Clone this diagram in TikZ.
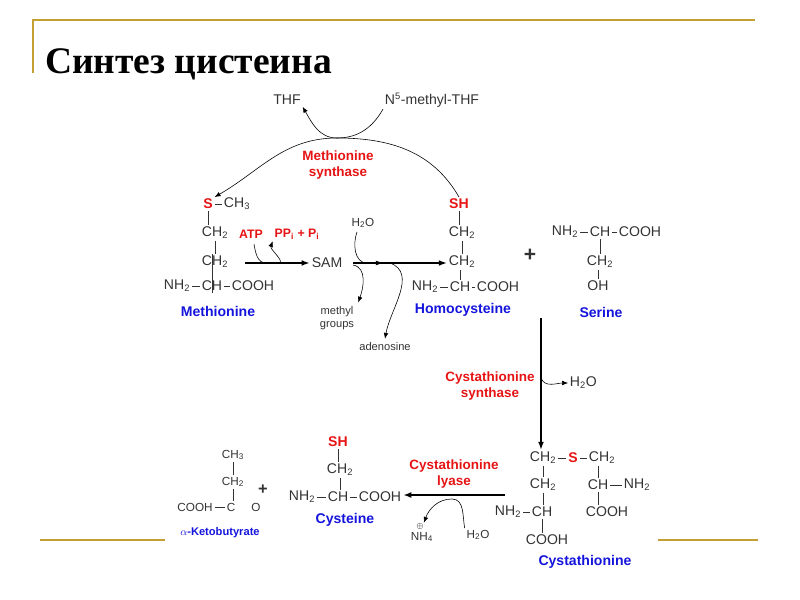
\documentclass[tikz,border=0pt]{standalone}
\usepackage{fontspec}
\setmainfont{Liberation Serif}
\newfontfamily\chemsf{Liberation Sans}
\usetikzlibrary{arrows.meta}
\definecolor{slidegold}{RGB}{196,160,50}
\definecolor{chemred}{RGB}{230,20,20}
\definecolor{chemblue}{RGB}{20,20,220}
\newcommand{\ch}[1]{\textsubscript{#1}}
\newcommand{\vbond}[2]{\draw[bond] (#1.south) -- (#1.south |- #2.north);}
\begin{document}
\begin{tikzpicture}
\tikzset{x={(0.03cm,0cm)}, y={(0cm,-0.03cm)}}
\tikzset{
  atom/.style={font=\chemsf\fontsize{12}{13}\selectfont, inner sep=1.5pt, text=black!80},
  satom/.style={atom, text=chemred, font=\chemsf\bfseries\fontsize{12}{13}\selectfont},
  enzyme/.style={font=\chemsf\bfseries\fontsize{11.5}{13}\selectfont, text=chemred, align=center},
  molname/.style={font=\chemsf\bfseries\fontsize{12}{13}\selectfont, text=chemblue},
  small/.style={font=\chemsf\fontsize{9.5}{10.5}\selectfont, text=black!80, align=center},
  bond/.style={line width=0.5pt, black!80},
  rxn/.style={line width=1.4pt, -{Latex[length=7pt,width=5pt]}},
  side/.style={line width=0.5pt, -{Latex[length=5pt,width=4pt]}}
}
\useasboundingbox (0,0) rectangle (800,600);
% slide frame
\draw[slidegold, line width=1.5pt] (33,73) -- (33,20) -- (755,20);
\draw[slidegold, line width=1.5pt] (40,540) -- (165,540);
\draw[slidegold, line width=1.5pt] (658,540) -- (758,540);
\node[anchor=base west, font=\bfseries\fontsize{32}{34}\selectfont, inner sep=0pt] (title) at (45,74) {Синтез цистеина};

% folate cycle
\node[atom] (thf) at (287,100) {THF};
\node[atom] (mthf) at (432,100) {N\textsuperscript{5}-methyl-THF};
\coordinate (top) at (337,138);
\node[enzyme] (msyn) at (338,165) {Methionine\\synthase};

% methionine
\node[satom] (ms) at (208,204) {S};
\node[atom, anchor=west] (mch3) at (222,204) {CH\ch{3}};
\node[atom] (mc1) at (215,233) {CH\ch{2}};
\node[atom] (mc2) at (215,262) {CH\ch{2}};
\node[atom] (mch) at (212,286) {CH};
\node[atom] (mnh2) at (177,286) {NH\ch{2}};
\node[atom] (mcooh) at (253,286) {COOH};
\node[molname] (met) at (218,311) {Methionine};
\draw[bond] (ms) -- (mch3) (mnh2) -- (mch) (mch) -- (mcooh);
\vbond{ms}{mc1} \vbond{mc1}{mc2} \vbond{mch}{mc2}
\draw[bond] (mch.north) -- (mch.north |- mc2.south);

% SAM
\node[satom, font=\chemsf\bfseries\fontsize{10.5}{12}\selectfont] (atp) at (251,234) {ATP};
\node[satom, font=\chemsf\bfseries\fontsize{10.5}{12}\selectfont] (ppi) at (297,234) {PP\ch{i} + P\ch{i}};
\node[atom] (sam) at (327,263) {SAM};
\coordinate (a1) at (245,263);
\coordinate (atpin) at (266,263);
\coordinate (ppiout) at (278,263);
\draw[rxn] (a1) -- (sam);
\draw[line width=0.5pt] (atp.south) ++(3,4) to[out=-80,in=180] (atpin);
\draw[side] (ppiout) to[out=0,in=-110] (ppi.south west);

% homocysteine
\node[satom] (hsh) at (459,204) {SH};
\node[atom] (hc1) at (462,233) {CH\ch{2}};
\node[atom] (hc2) at (462,262) {CH\ch{2}};
\node[atom] (hch) at (460,287) {CH};
\node[atom] (hnh2) at (425,287) {NH\ch{2}};
\node[atom] (hcooh) at (498,287) {COOH};
\node[molname] (hcy) at (463,310) {Homocysteine};
\draw[bond] (hnh2) -- (hch) (hch) -- (hcooh);
\vbond{hsh}{hc1} \vbond{hc1}{hc2}
\draw[bond] (hch.north) -- (hch.north |- hc2.south);

\node[atom, font=\chemsf\fontsize{10}{11}\selectfont] (h2oa) at (363,223) {H\ch{2}O};
\node[small] (methyl) at (337,318) {methyl\\groups};
\node[small] (aden) at (385,347) {adenosine};
\coordinate (s1) at (353,263);
\coordinate (s2) at (447,263);
\coordinate (s3) at (367,263);
\coordinate (s4) at (390,263);
\draw[rxn] (s1) -- (s2);
\draw[line width=0.5pt, -{Latex[length=6pt,width=4pt]}] (s1) -- (383,263);
\draw[line width=0.5pt] (h2oa.south) ++(-6,2) to[out=-110,in=180] (s3);
\draw[side] (s1) ++(0,2) to[out=-10,in=70] (methyl.north east);
\draw[side] (s4) to[out=-20,in=80] (aden.north);

% methionine synthase arcs
\draw[side] (hsh.north) to[out=120,in=0] (top) to[out=180,in=30] (ms.north east);
\draw[side] (mthf.south west) to[out=-120,in=0] (top) to[out=180,in=-60] (thf.south east);

% serine
\node[atom, font=\chemsf\bfseries\fontsize{18}{18}\selectfont] (plus1) at (530,255) {+};
\node[atom] (snh2) at (565,232) {NH\ch{2}};
\node[atom] (sch) at (600,232) {CH};
\node[atom] (scooh) at (640,232) {COOH};
\node[atom] (sc1) at (600,262) {CH\ch{2}};
\node[atom] (soh) at (598,286) {OH};
\node[molname] (ser) at (601,312) {Serine};
\draw[bond] (snh2) -- (sch) (sch) -- (scooh);
\vbond{sch}{sc1}
\draw[bond] (soh.north) -- (soh.north |- sc1.south);

% cystathionine synthase
\coordinate (v1) at (541,318);
\coordinate (v2) at (541,378);
\node[atom, anchor=west] (h2ob) at (568,383) {H\ch{2}O};
\node[enzyme] (csyn) at (490,386) {Cystathionine\\synthase};

% cystathionine
\node[atom] (cc1) at (543,458) {CH\ch{2}};
\node[satom] (cs) at (573,458) {S};
\node[atom] (cc2) at (602,458) {CH\ch{2}};
\node[atom] (cc3) at (543,485) {CH\ch{2}};
\node[atom] (cch2) at (598,485) {CH};
\node[atom, anchor=west] (cnh2r) at (622,485) {NH\ch{2}};
\node[atom] (cch) at (542,512) {CH};
\node[atom] (cnh2) at (508,512) {NH\ch{2}};
\node[atom] (ccoohr) at (607,512) {COOH};
\node[atom] (ccooh) at (547,540) {COOH};
\node[molname] (cys2) at (585,562) {Cystathionine};
\draw[bond] (cc1) -- (cs) (cs) -- (cc2) (cnh2) -- (cch) (cch2) -- (cnh2r);
\vbond{cc1}{cc3} \vbond{cc3}{cch} \vbond{cch}{ccooh} \vbond{cch2}{ccoohr}
\draw[bond] (cch2.north) -- (cch2.north |- cc2.south);
\draw[rxn] (v1) -- (v1 |- cc1.north);
\draw[side] (v2) to[out=-70,in=180] (h2ob.west);

% cystathionine lyase
\coordinate (l1) at (505,495);
\node[enzyme] (lyase) at (454,474) {Cystathionine\\lyase};
\node[atom, font=\chemsf\fontsize{10}{11}\selectfont] (h2oc) at (478,535) {H\ch{2}O};
\node[atom, font=\chemsf\fontsize{10}{11}\selectfont] (nh4) at (422,537) {NH\ch{4}};
\node[font=\chemsf\fontsize{7}{7}\selectfont, inner sep=0pt] (chg) at (420,526) {$\oplus$};
\coordinate (peak) at (452,499);
\draw[side] (h2oc.north west) to[out=100,in=0] (peak) to[out=180,in=70] (chg.north east);

% cysteine
\node[satom] (csh) at (338,442) {SH};
\node[atom] (ysc1) at (340,470) {CH\ch{2}};
\node[atom] (ych) at (338,497) {CH};
\node[atom] (ynh2) at (302,497) {NH\ch{2}};
\node[atom] (ycooh) at (380,497) {COOH};
\node[molname] (cys) at (345,520) {Cysteine};
\draw[bond] (ynh2) -- (ych) (ych) -- (ycooh);
\vbond{csh}{ysc1} \vbond{ysc1}{ych}
\draw[rxn] (l1) -- (l1 -| ycooh.east);

% alpha-ketobutyrate
\node[atom, font=\chemsf\bfseries\fontsize{14}{14}\selectfont] (plus2) at (263,490) {+};
\node[atom, font=\chemsf\fontsize{10}{11}\selectfont] (kch3) at (233,455) {CH\ch{3}};
\node[atom, font=\chemsf\fontsize{10}{11}\selectfont] (kch2) at (233,482) {CH\ch{2}};
\node[atom, font=\chemsf\fontsize{10}{11}\selectfont] (kc) at (231,507) {C};
\node[atom, font=\chemsf\fontsize{10}{11}\selectfont] (kcooh) at (195,507) {COOH};
\node[atom, font=\chemsf\fontsize{10}{11}\selectfont] (ko) at (256,507) {O};
\node[molname, font=\chemsf\bfseries\fontsize{9.5}{11}\selectfont] (keto) at (220,533) {$\alpha$-Ketobutyrate};
\draw[bond] (kcooh) -- (kc);
\vbond{kch3}{kch2} \vbond{kch2}{kc}
\draw[bond, double, double distance=1.5pt] (kc) -- (ko);
\end{tikzpicture}
\end{document}
